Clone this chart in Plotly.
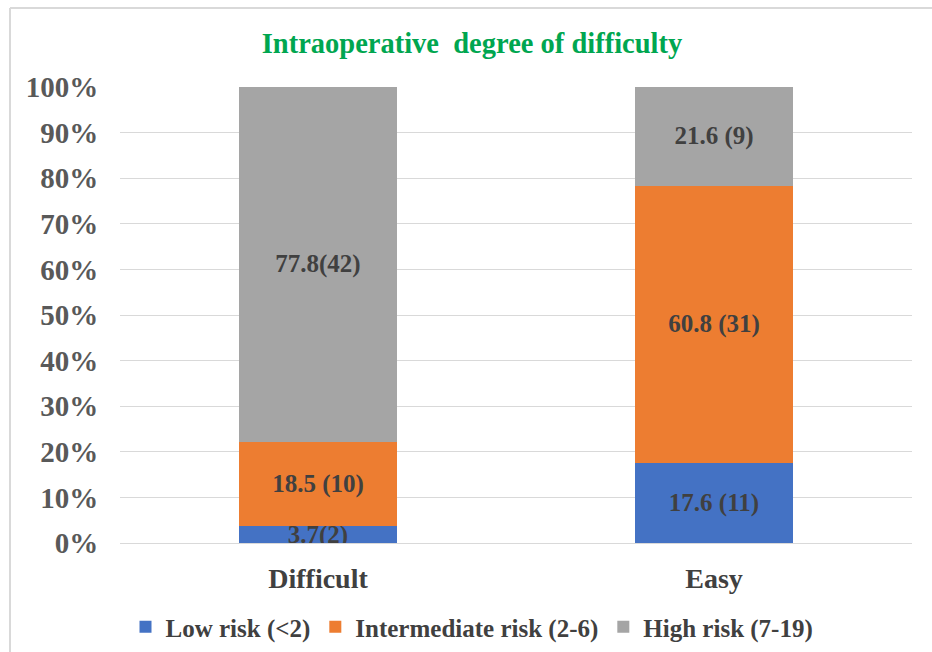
import plotly.graph_objects as go

categories = ["Difficult", "Easy"]
series_names = ["Low risk (<2)", "Intermediate risk (2-6)", "High risk (7-19)"]
low_pct = [3.7, 17.6]
low_n = [2, 11]
inter_pct = [18.5, 60.8]
inter_n = [10, 31]
high_pct = [77.8, 21.6]
high_n = [42, 9]
label_sep = [["", " "], [" ", " "], ["", " "]]  # spacing used in the printed labels
tick_vals = [0, 10, 20, 30, 40, 50, 60, 70, 80, 90, 100]
tick_text = [f"{v}%" for v in tick_vals]

colors = ["#4472C4", "#ED7D31", "#A5A5A5"]
FONT = "Liberation Serif, Times New Roman, serif"

fig = go.Figure()
for name, pct, n, sep, col in zip(series_names,
                                  [low_pct, inter_pct, high_pct],
                                  [low_n, inter_n, high_n],
                                  label_sep, colors):
    labels = [f"{p}{s}({k})" for p, s, k in zip(pct, sep, n)]
    fig.add_trace(go.Bar(
        x=categories, y=pct, name=name,
        marker=dict(color=col, line=dict(width=0)),
        text=labels, textposition="inside", insidetextanchor="middle",
        textangle=0,
        textfont=dict(family=FONT, size=25, color="#404040", weight="bold"),
        hoverinfo="skip",
    ))

W, H = 932, 652
ML, MR, MT, MB = 120, 20, 87, 109
pw, ph = W - ML - MR, H - MT - MB

def px_x(px):
    return (px - ML) / pw

def px_y(py):
    return (H - MB - py) / ph

fig.update_layout(
    width=W, height=H,
    margin=dict(l=ML, r=MR, t=MT, b=MB, autoexpand=False),
    barmode="stack", bargap=0.6,
    plot_bgcolor="white", paper_bgcolor="white",
    uniformtext=dict(mode="show", minsize=25),
    title=dict(text="Intraoperative  degree of difficulty",
               x=472 / W, xref="container", xanchor="center",
               y=1 - 43 / H, yref="container", yanchor="middle",
               font=dict(family=FONT, size=28.5, color="#00A650", weight="bold")),
    font=dict(family=FONT, color="#595959"),
    xaxis=dict(showline=False, ticks="outside", ticklen=10, tickcolor="rgba(0,0,0,0)",
               tickfont=dict(family=FONT, size=28, color="#404040", weight="bold"),
               showgrid=False),
    yaxis=dict(range=[0, 100], tickvals=tick_vals, ticktext=tick_text,
               showgrid=True, gridcolor="#D9D9D9", gridwidth=1.3,
               zeroline=True, zerolinecolor="#D9D9D9", zerolinewidth=1.3,
               ticks="outside", ticklen=15, tickcolor="rgba(0,0,0,0)",
               tickfont=dict(family=FONT, size=29, color="#595959", weight="bold")),
    legend=dict(orientation="h", x=px_x(472), xanchor="center", xref="paper",
                y=px_y(627), yanchor="middle",
                font=dict(family=FONT, size=25, color="#404040", weight="bold"),
                itemwidth=30, traceorder="normal"),
    shapes=[
        dict(type="line", xref="paper", yref="paper",
             x0=px_x(10), x1=px_x(940), y0=px_y(8), y1=px_y(8),
             line=dict(color="#D9D9D9", width=2)),
        dict(type="line", xref="paper", yref="paper",
             x0=px_x(10), x1=px_x(10), y0=px_y(8), y1=px_y(660),
             line=dict(color="#D9D9D9", width=2)),
    ],
)

fig.write_html("out.html")
